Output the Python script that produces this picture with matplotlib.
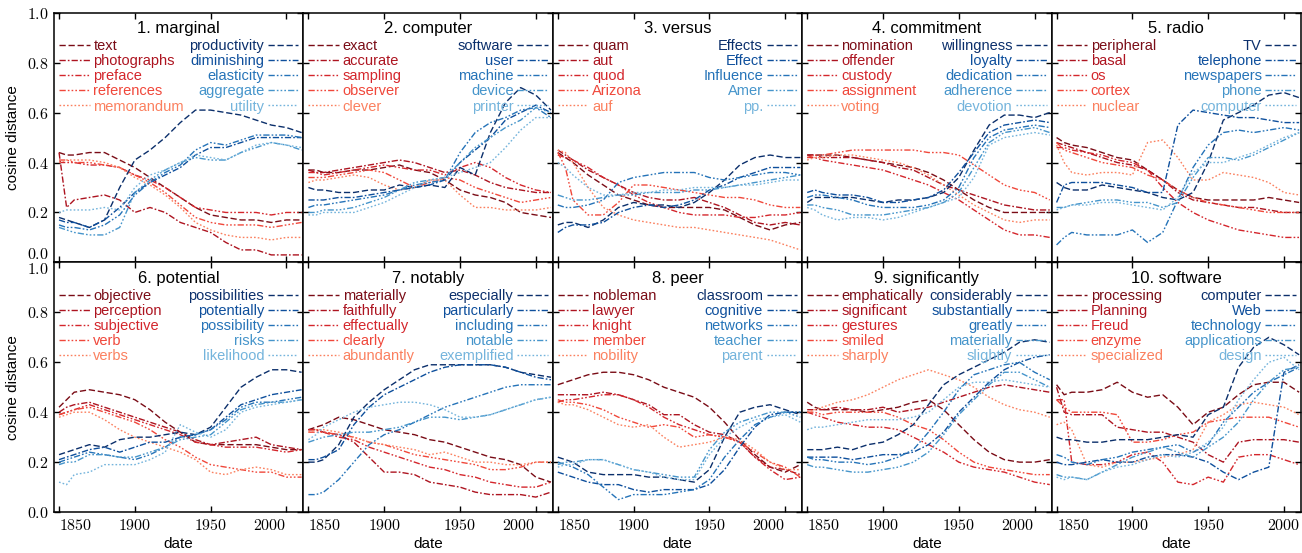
import matplotlib.pyplot as plt
from matplotlib.ticker import FuncFormatter

plt.rcParams['font.family'] = ['Liberation Sans', 'DejaVu Sans']
plt.rcParams['mathtext.fontset'] = 'cm'

YEARS = [1850, 1855, 1860, 1870, 1880, 1890, 1900, 1910, 1920,
         1930, 1940, 1950, 1960, 1970, 1980, 1990, 2000, 2010]

# 1. marginal
MARGINAL_RED_WORDS = ['text', 'photographs', 'preface', 'references', 'memorandum']
MARGINAL_RED = [
    [0.44, 0.43, 0.43, 0.44, 0.44, 0.41, 0.38, 0.34, 0.30, 0.26, 0.22, 0.19, 0.18, 0.17, 0.17, 0.16, 0.17, 0.17],
    [0.44, 0.22, 0.25, 0.26, 0.27, 0.25, 0.20, 0.22, 0.20, 0.16, 0.14, 0.12, 0.08, 0.05, 0.05, 0.03, 0.03, 0.03],
    [0.40, 0.40, 0.40, 0.39, 0.39, 0.38, 0.35, 0.33, 0.30, 0.26, 0.22, 0.21, 0.20, 0.20, 0.20, 0.19, 0.20, 0.20],
    [0.41, 0.41, 0.40, 0.40, 0.39, 0.38, 0.35, 0.32, 0.28, 0.23, 0.18, 0.16, 0.15, 0.15, 0.15, 0.14, 0.15, 0.16],
    [0.40, 0.41, 0.41, 0.41, 0.40, 0.38, 0.34, 0.31, 0.27, 0.22, 0.16, 0.13, 0.11, 0.10, 0.10, 0.09, 0.10, 0.10],
]
MARGINAL_BLUE_WORDS = ['productivity', 'diminishing', 'elasticity', 'aggregate', 'utility']
MARGINAL_BLUE = [
    [0.18, 0.17, 0.16, 0.14, 0.17, 0.30, 0.41, 0.45, 0.50, 0.56, 0.61, 0.61, 0.60, 0.59, 0.57, 0.55, 0.54, 0.52],
    [0.17, 0.16, 0.16, 0.14, 0.17, 0.22, 0.28, 0.32, 0.35, 0.38, 0.43, 0.46, 0.46, 0.48, 0.50, 0.50, 0.50, 0.50],
    [0.15, 0.14, 0.14, 0.13, 0.15, 0.19, 0.27, 0.32, 0.36, 0.39, 0.45, 0.48, 0.47, 0.49, 0.51, 0.51, 0.51, 0.50],
    [0.14, 0.13, 0.12, 0.11, 0.11, 0.14, 0.28, 0.33, 0.37, 0.40, 0.42, 0.41, 0.41, 0.44, 0.46, 0.48, 0.47, 0.45],
    [0.20, 0.21, 0.21, 0.21, 0.22, 0.21, 0.30, 0.35, 0.37, 0.40, 0.43, 0.42, 0.41, 0.44, 0.47, 0.48, 0.47, 0.46],
]

# 2. computer
COMPUTER_RED_WORDS = ['exact', 'accurate', 'sampling', 'observer', 'clever']
COMPUTER_RED = [
    [0.37, 0.37, 0.36, 0.36, 0.37, 0.37, 0.38, 0.39, 0.37, 0.36, 0.33, 0.29, 0.27, 0.26, 0.24, 0.20, 0.19, 0.18],
    [0.37, 0.36, 0.36, 0.37, 0.38, 0.39, 0.40, 0.41, 0.40, 0.38, 0.36, 0.37, 0.35, 0.32, 0.30, 0.29, 0.28, 0.28],
    [0.36, 0.36, 0.35, 0.36, 0.37, 0.38, 0.39, 0.38, 0.37, 0.37, 0.35, 0.38, 0.40, 0.38, 0.34, 0.31, 0.29, 0.28],
    [0.34, 0.34, 0.34, 0.35, 0.36, 0.37, 0.36, 0.33, 0.30, 0.32, 0.34, 0.33, 0.30, 0.28, 0.26, 0.24, 0.25, 0.26],
    [0.32, 0.33, 0.33, 0.34, 0.35, 0.34, 0.31, 0.29, 0.30, 0.33, 0.33, 0.27, 0.22, 0.22, 0.21, 0.21, 0.21, 0.22],
]
COMPUTER_BLUE_WORDS = ['software', 'user', 'machine', 'device', 'printer']
COMPUTER_BLUE = [
    [0.30, 0.29, 0.29, 0.28, 0.28, 0.29, 0.29, 0.31, 0.30, 0.31, 0.30, 0.38, 0.35, 0.52, 0.64, 0.70, 0.67, 0.61],
    [0.25, 0.25, 0.25, 0.26, 0.26, 0.27, 0.28, 0.29, 0.30, 0.31, 0.33, 0.40, 0.45, 0.50, 0.57, 0.60, 0.63, 0.60],
    [0.22, 0.23, 0.23, 0.24, 0.25, 0.26, 0.27, 0.29, 0.31, 0.32, 0.33, 0.44, 0.52, 0.56, 0.58, 0.61, 0.62, 0.58],
    [0.20, 0.20, 0.21, 0.21, 0.22, 0.24, 0.26, 0.29, 0.32, 0.33, 0.34, 0.40, 0.46, 0.50, 0.54, 0.57, 0.62, 0.60],
    [0.19, 0.19, 0.20, 0.20, 0.20, 0.22, 0.24, 0.27, 0.30, 0.33, 0.34, 0.36, 0.38, 0.40, 0.46, 0.53, 0.58, 0.58],
]

# 3. versus
VERSUS_RED_WORDS = ['quam', 'aut', 'quod', 'Arizona', 'auf']
VERSUS_RED = [
    [0.44, 0.42, 0.40, 0.35, 0.31, 0.27, 0.25, 0.23, 0.22, 0.22, 0.22, 0.22, 0.21, 0.18, 0.15, 0.13, 0.15, 0.16],
    [0.45, 0.43, 0.41, 0.37, 0.34, 0.31, 0.28, 0.26, 0.25, 0.25, 0.26, 0.24, 0.22, 0.19, 0.16, 0.15, 0.16, 0.15],
    [0.43, 0.42, 0.41, 0.38, 0.34, 0.31, 0.27, 0.24, 0.22, 0.20, 0.19, 0.19, 0.19, 0.18, 0.18, 0.19, 0.19, 0.20],
    [0.44, 0.38, 0.25, 0.19, 0.19, 0.24, 0.31, 0.31, 0.30, 0.29, 0.28, 0.27, 0.26, 0.26, 0.25, 0.23, 0.22, 0.22],
    [0.45, 0.44, 0.40, 0.30, 0.22, 0.19, 0.17, 0.16, 0.15, 0.14, 0.14, 0.13, 0.12, 0.11, 0.10, 0.09, 0.07, 0.05],
]
VERSUS_BLUE_WORDS = ['Effects', 'Effect', 'Influence', 'Amer', 'pp.']
VERSUS_BLUE = [
    [0.15, 0.16, 0.16, 0.14, 0.17, 0.22, 0.24, 0.23, 0.23, 0.22, 0.24, 0.28, 0.33, 0.39, 0.42, 0.43, 0.42, 0.42],
    [0.12, 0.14, 0.15, 0.15, 0.16, 0.20, 0.22, 0.23, 0.22, 0.23, 0.25, 0.29, 0.31, 0.34, 0.36, 0.38, 0.38, 0.38],
    [0.23, 0.22, 0.22, 0.23, 0.25, 0.32, 0.34, 0.35, 0.36, 0.36, 0.36, 0.34, 0.33, 0.34, 0.35, 0.36, 0.36, 0.35],
    [0.27, 0.26, 0.25, 0.25, 0.26, 0.27, 0.27, 0.28, 0.28, 0.28, 0.29, 0.29, 0.30, 0.31, 0.32, 0.33, 0.34, 0.35],
    [0.40, 0.38, 0.35, 0.30, 0.27, 0.27, 0.28, 0.28, 0.29, 0.29, 0.30, 0.30, 0.30, 0.31, 0.31, 0.32, 0.33, 0.33],
]

# 4. commitment
COMMITMENT_RED_WORDS = ['nomination', 'offender', 'custody', 'assignment', 'voting']
COMMITMENT_RED = [
    [0.43, 0.43, 0.43, 0.43, 0.42, 0.41, 0.40, 0.39, 0.38, 0.36, 0.33, 0.29, 0.25, 0.22, 0.20, 0.20, 0.20, 0.20],
    [0.43, 0.43, 0.42, 0.42, 0.42, 0.41, 0.40, 0.38, 0.37, 0.34, 0.31, 0.29, 0.27, 0.25, 0.23, 0.22, 0.21, 0.21],
    [0.42, 0.42, 0.41, 0.40, 0.39, 0.38, 0.37, 0.35, 0.33, 0.31, 0.28, 0.25, 0.21, 0.17, 0.13, 0.11, 0.11, 0.10],
    [0.42, 0.43, 0.43, 0.44, 0.45, 0.45, 0.45, 0.45, 0.45, 0.44, 0.44, 0.43, 0.39, 0.35, 0.31, 0.29, 0.28, 0.25],
    [0.41, 0.42, 0.42, 0.43, 0.43, 0.42, 0.41, 0.40, 0.38, 0.35, 0.31, 0.27, 0.23, 0.20, 0.17, 0.16, 0.17, 0.17],
]
COMMITMENT_BLUE_WORDS = ['willingness', 'loyalty', 'dedication', 'adherence', 'devotion']
COMMITMENT_BLUE = [
    [0.24, 0.26, 0.26, 0.26, 0.26, 0.25, 0.24, 0.25, 0.25, 0.26, 0.28, 0.34, 0.45, 0.55, 0.59, 0.59, 0.58, 0.60],
    [0.28, 0.29, 0.28, 0.27, 0.27, 0.26, 0.24, 0.24, 0.25, 0.26, 0.29, 0.36, 0.44, 0.52, 0.55, 0.56, 0.57, 0.56],
    [0.26, 0.27, 0.27, 0.26, 0.25, 0.23, 0.22, 0.22, 0.22, 0.23, 0.25, 0.30, 0.42, 0.50, 0.53, 0.54, 0.55, 0.54],
    [0.23, 0.23, 0.22, 0.21, 0.19, 0.19, 0.19, 0.20, 0.21, 0.22, 0.24, 0.28, 0.38, 0.48, 0.52, 0.53, 0.54, 0.52],
    [0.22, 0.21, 0.19, 0.17, 0.18, 0.18, 0.17, 0.18, 0.20, 0.22, 0.24, 0.26, 0.34, 0.47, 0.50, 0.51, 0.52, 0.51],
]

# 5. radio
RADIO_RED_WORDS = ['peripheral', 'basal', 'os', 'cortex', 'nuclear']
RADIO_RED = [
    [0.50, 0.48, 0.47, 0.46, 0.44, 0.42, 0.41, 0.37, 0.33, 0.29, 0.26, 0.25, 0.25, 0.25, 0.25, 0.26, 0.25, 0.24],
    [0.48, 0.47, 0.46, 0.44, 0.42, 0.40, 0.39, 0.37, 0.33, 0.28, 0.25, 0.24, 0.23, 0.22, 0.22, 0.21, 0.20, 0.20],
    [0.46, 0.46, 0.45, 0.44, 0.43, 0.41, 0.40, 0.37, 0.30, 0.24, 0.20, 0.17, 0.15, 0.13, 0.12, 0.11, 0.10, 0.10],
    [0.48, 0.45, 0.44, 0.42, 0.40, 0.39, 0.38, 0.35, 0.33, 0.29, 0.26, 0.24, 0.23, 0.22, 0.21, 0.20, 0.20, 0.20],
    [0.47, 0.40, 0.36, 0.35, 0.36, 0.36, 0.35, 0.48, 0.49, 0.42, 0.33, 0.33, 0.36, 0.35, 0.34, 0.32, 0.28, 0.27],
]
RADIO_BLUE_WORDS = ['TV', 'telephone', 'newspapers', 'phone', 'computer']
RADIO_BLUE = [
    [0.32, 0.30, 0.29, 0.29, 0.31, 0.30, 0.29, 0.28, 0.26, 0.25, 0.28, 0.40, 0.57, 0.60, 0.63, 0.67, 0.68, 0.66],
    [0.24, 0.31, 0.32, 0.32, 0.32, 0.31, 0.30, 0.28, 0.28, 0.55, 0.61, 0.60, 0.59, 0.58, 0.58, 0.57, 0.56, 0.56],
    [0.07, 0.10, 0.12, 0.11, 0.11, 0.11, 0.13, 0.08, 0.12, 0.25, 0.38, 0.47, 0.52, 0.53, 0.52, 0.53, 0.54, 0.53],
    [0.22, 0.22, 0.23, 0.24, 0.25, 0.25, 0.24, 0.24, 0.22, 0.24, 0.34, 0.42, 0.42, 0.41, 0.43, 0.46, 0.49, 0.52],
    [0.21, 0.22, 0.23, 0.23, 0.24, 0.24, 0.23, 0.22, 0.21, 0.26, 0.36, 0.40, 0.40, 0.42, 0.44, 0.47, 0.50, 0.52],
]

# 6. potential
POTENTIAL_RED_WORDS = ['objective', 'perception', 'subjective', 'verb', 'verbs']
POTENTIAL_RED = [
    [0.42, 0.45, 0.48, 0.49, 0.48, 0.47, 0.45, 0.41, 0.36, 0.32, 0.28, 0.27, 0.27, 0.27, 0.27, 0.26, 0.25, 0.25],
    [0.40, 0.42, 0.43, 0.44, 0.42, 0.40, 0.38, 0.36, 0.34, 0.32, 0.29, 0.27, 0.28, 0.29, 0.30, 0.27, 0.26, 0.25],
    [0.39, 0.40, 0.41, 0.43, 0.41, 0.39, 0.37, 0.35, 0.33, 0.31, 0.28, 0.27, 0.26, 0.26, 0.26, 0.25, 0.24, 0.25],
    [0.39, 0.40, 0.41, 0.42, 0.40, 0.38, 0.36, 0.33, 0.29, 0.26, 0.22, 0.19, 0.18, 0.17, 0.16, 0.16, 0.14, 0.14],
    [0.38, 0.39, 0.40, 0.40, 0.37, 0.33, 0.30, 0.28, 0.26, 0.24, 0.21, 0.16, 0.15, 0.17, 0.18, 0.17, 0.15, 0.15],
]
POTENTIAL_BLUE_WORDS = ['possibilities', 'potentially', 'possibility', 'risks', 'likelihood']
POTENTIAL_BLUE = [
    [0.23, 0.24, 0.25, 0.27, 0.26, 0.29, 0.30, 0.30, 0.31, 0.32, 0.31, 0.34, 0.42, 0.50, 0.54, 0.57, 0.57, 0.56],
    [0.21, 0.22, 0.23, 0.25, 0.26, 0.24, 0.26, 0.28, 0.28, 0.30, 0.31, 0.33, 0.38, 0.43, 0.45, 0.47, 0.48, 0.49],
    [0.20, 0.21, 0.22, 0.24, 0.23, 0.22, 0.21, 0.23, 0.26, 0.30, 0.31, 0.33, 0.37, 0.42, 0.44, 0.44, 0.45, 0.46],
    [0.19, 0.20, 0.20, 0.23, 0.23, 0.22, 0.22, 0.24, 0.26, 0.29, 0.30, 0.31, 0.36, 0.41, 0.43, 0.44, 0.44, 0.45],
    [0.12, 0.11, 0.15, 0.16, 0.19, 0.19, 0.19, 0.21, 0.24, 0.35, 0.32, 0.30, 0.33, 0.40, 0.42, 0.43, 0.44, 0.45],
]

# 7. notably
NOTABLY_RED_WORDS = ['materially', 'faithfully', 'effectually', 'clearly', 'abundantly']
NOTABLY_RED = [
    [0.33, 0.34, 0.35, 0.38, 0.37, 0.35, 0.33, 0.32, 0.31, 0.29, 0.28, 0.26, 0.24, 0.22, 0.21, 0.19, 0.14, 0.12],
    [0.33, 0.33, 0.32, 0.31, 0.28, 0.22, 0.16, 0.16, 0.15, 0.12, 0.11, 0.10, 0.08, 0.07, 0.07, 0.07, 0.06, 0.08],
    [0.33, 0.33, 0.32, 0.30, 0.29, 0.26, 0.24, 0.22, 0.20, 0.18, 0.17, 0.15, 0.14, 0.12, 0.11, 0.10, 0.10, 0.12],
    [0.32, 0.32, 0.32, 0.31, 0.30, 0.28, 0.27, 0.25, 0.23, 0.22, 0.21, 0.20, 0.19, 0.17, 0.17, 0.18, 0.20, 0.20],
    [0.32, 0.33, 0.33, 0.32, 0.30, 0.28, 0.27, 0.26, 0.25, 0.23, 0.24, 0.22, 0.20, 0.20, 0.19, 0.19, 0.20, 0.20],
]
NOTABLY_BLUE_WORDS = ['especially', 'particularly', 'including', 'notable', 'exemplified']
NOTABLY_BLUE = [
    [0.20, 0.20, 0.21, 0.27, 0.38, 0.44, 0.49, 0.53, 0.57, 0.59, 0.59, 0.59, 0.59, 0.59, 0.58, 0.56, 0.55, 0.54],
    [0.21, 0.21, 0.22, 0.25, 0.35, 0.42, 0.47, 0.50, 0.53, 0.56, 0.58, 0.59, 0.59, 0.59, 0.58, 0.56, 0.54, 0.53],
    [0.07, 0.07, 0.08, 0.13, 0.20, 0.27, 0.31, 0.33, 0.36, 0.39, 0.42, 0.44, 0.46, 0.48, 0.50, 0.51, 0.51, 0.51],
    [0.28, 0.29, 0.30, 0.31, 0.32, 0.32, 0.33, 0.34, 0.36, 0.38, 0.38, 0.37, 0.38, 0.39, 0.41, 0.43, 0.45, 0.46],
    [0.29, 0.31, 0.34, 0.37, 0.40, 0.42, 0.43, 0.44, 0.44, 0.43, 0.41, 0.38, 0.38, 0.39, 0.41, 0.43, 0.45, 0.46],
]

# 8. peer
PEER_RED_WORDS = ['nobleman', 'lawyer', 'knight', 'member', 'nobility']
PEER_RED = [
    [0.51, 0.52, 0.53, 0.55, 0.56, 0.56, 0.55, 0.53, 0.50, 0.48, 0.46, 0.42, 0.36, 0.29, 0.23, 0.18, 0.16, 0.19],
    [0.47, 0.47, 0.47, 0.47, 0.48, 0.47, 0.45, 0.43, 0.39, 0.39, 0.35, 0.32, 0.31, 0.28, 0.22, 0.18, 0.17, 0.15],
    [0.44, 0.45, 0.45, 0.46, 0.47, 0.47, 0.45, 0.42, 0.38, 0.35, 0.33, 0.31, 0.30, 0.28, 0.22, 0.17, 0.13, 0.14],
    [0.45, 0.44, 0.44, 0.43, 0.41, 0.38, 0.36, 0.34, 0.35, 0.34, 0.30, 0.31, 0.30, 0.28, 0.24, 0.20, 0.18, 0.14],
    [0.44, 0.43, 0.43, 0.41, 0.38, 0.35, 0.34, 0.35, 0.30, 0.26, 0.27, 0.28, 0.30, 0.29, 0.25, 0.20, 0.17, 0.17],
]
PEER_BLUE_WORDS = ['classroom', 'cognitive', 'networks', 'teacher', 'parent']
PEER_BLUE = [
    [0.22, 0.21, 0.20, 0.16, 0.15, 0.15, 0.15, 0.14, 0.14, 0.13, 0.12, 0.17, 0.30, 0.40, 0.42, 0.43, 0.41, 0.39],
    [0.16, 0.15, 0.14, 0.12, 0.11, 0.11, 0.09, 0.08, 0.09, 0.09, 0.09, 0.11, 0.17, 0.26, 0.34, 0.39, 0.40, 0.40],
    [0.20, 0.19, 0.18, 0.15, 0.10, 0.05, 0.07, 0.07, 0.07, 0.08, 0.09, 0.13, 0.22, 0.29, 0.35, 0.38, 0.40, 0.40],
    [0.19, 0.20, 0.20, 0.21, 0.21, 0.19, 0.17, 0.16, 0.15, 0.14, 0.14, 0.25, 0.32, 0.36, 0.38, 0.40, 0.40, 0.38],
    [0.18, 0.19, 0.19, 0.21, 0.21, 0.19, 0.17, 0.16, 0.14, 0.13, 0.13, 0.23, 0.30, 0.34, 0.37, 0.38, 0.39, 0.36],
]

# 9. significantly
SIGNIFICANTLY_RED_WORDS = ['emphatically', 'significant', 'gestures', 'smiled', 'sharply']
SIGNIFICANTLY_RED = [
    [0.44, 0.42, 0.41, 0.41, 0.41, 0.40, 0.41, 0.42, 0.44, 0.45, 0.41, 0.35, 0.29, 0.24, 0.21, 0.20, 0.20, 0.21],
    [0.41, 0.41, 0.41, 0.42, 0.41, 0.41, 0.42, 0.40, 0.41, 0.42, 0.44, 0.46, 0.48, 0.50, 0.51, 0.50, 0.49, 0.48],
    [0.40, 0.39, 0.38, 0.36, 0.35, 0.34, 0.34, 0.33, 0.30, 0.27, 0.24, 0.20, 0.18, 0.17, 0.16, 0.14, 0.12, 0.11],
    [0.40, 0.40, 0.39, 0.40, 0.40, 0.40, 0.40, 0.38, 0.35, 0.33, 0.29, 0.24, 0.20, 0.18, 0.17, 0.16, 0.15, 0.15],
    [0.40, 0.41, 0.42, 0.44, 0.45, 0.47, 0.50, 0.53, 0.55, 0.57, 0.55, 0.53, 0.50, 0.46, 0.43, 0.41, 0.40, 0.38],
]
SIGNIFICANTLY_BLUE_WORDS = ['considerably', 'substantially', 'greatly', 'materially', 'slightly']
SIGNIFICANTLY_BLUE = [
    [0.25, 0.25, 0.25, 0.26, 0.25, 0.27, 0.28, 0.31, 0.35, 0.43, 0.51, 0.55, 0.58, 0.61, 0.64, 0.68, 0.69, 0.68],
    [0.22, 0.22, 0.22, 0.22, 0.21, 0.22, 0.23, 0.23, 0.24, 0.27, 0.32, 0.40, 0.46, 0.52, 0.57, 0.60, 0.62, 0.63],
    [0.22, 0.21, 0.21, 0.20, 0.20, 0.19, 0.20, 0.22, 0.25, 0.32, 0.40, 0.49, 0.55, 0.57, 0.59, 0.60, 0.56, 0.53],
    [0.19, 0.18, 0.18, 0.17, 0.16, 0.16, 0.17, 0.18, 0.20, 0.24, 0.31, 0.39, 0.45, 0.51, 0.56, 0.56, 0.53, 0.50],
    [0.33, 0.34, 0.34, 0.35, 0.36, 0.37, 0.37, 0.37, 0.38, 0.40, 0.45, 0.50, 0.52, 0.52, 0.53, 0.52, 0.51, 0.50],
]

# 10. software
SOFTWARE_RED_WORDS = ['processing', 'Planning', 'Freud', 'enzyme', 'specialized']
SOFTWARE_RED = [
    [0.51, 0.47, 0.48, 0.48, 0.49, 0.52, 0.48, 0.46, 0.47, 0.42, 0.35, 0.40, 0.42, 0.47, 0.51, 0.52, 0.52, 0.48],
    [0.50, 0.40, 0.39, 0.39, 0.39, 0.34, 0.33, 0.32, 0.32, 0.30, 0.28, 0.23, 0.20, 0.28, 0.29, 0.29, 0.29, 0.28],
    [0.45, 0.45, 0.20, 0.19, 0.19, 0.20, 0.23, 0.24, 0.20, 0.12, 0.11, 0.14, 0.12, 0.22, 0.23, 0.23, 0.21, 0.19],
    [0.45, 0.42, 0.40, 0.40, 0.40, 0.39, 0.28, 0.28, 0.29, 0.31, 0.32, 0.36, 0.37, 0.38, 0.38, 0.38, 0.36, 0.34],
    [0.35, 0.36, 0.33, 0.19, 0.18, 0.20, 0.20, 0.21, 0.22, 0.23, 0.25, 0.36, 0.39, 0.43, 0.44, 0.43, 0.42, 0.39],
]
SOFTWARE_BLUE_WORDS = ['computer', 'Web', 'technology', 'applications', 'design']
SOFTWARE_BLUE = [
    [0.30, 0.29, 0.29, 0.28, 0.28, 0.29, 0.29, 0.29, 0.30, 0.31, 0.30, 0.39, 0.42, 0.58, 0.66, 0.70, 0.67, 0.63],
    [0.20, 0.19, 0.19, 0.20, 0.21, 0.20, 0.20, 0.22, 0.23, 0.23, 0.22, 0.20, 0.16, 0.13, 0.16, 0.18, 0.56, 0.59],
    [0.23, 0.22, 0.20, 0.19, 0.21, 0.22, 0.24, 0.25, 0.26, 0.27, 0.24, 0.27, 0.36, 0.42, 0.48, 0.52, 0.55, 0.58],
    [0.15, 0.14, 0.14, 0.13, 0.16, 0.19, 0.22, 0.24, 0.26, 0.24, 0.22, 0.26, 0.30, 0.36, 0.45, 0.52, 0.57, 0.58],
    [0.14, 0.13, 0.14, 0.13, 0.16, 0.18, 0.19, 0.21, 0.23, 0.22, 0.24, 0.28, 0.34, 0.45, 0.53, 0.60, 0.62, 0.57],
]

TITLES = ['1. marginal', '2. computer', '3. versus', '4. commitment', '5. radio',
          '6. potential', '7. notably', '8. peer', '9. significantly', '10. software']

PANELS = [
    (MARGINAL_RED_WORDS, MARGINAL_RED, MARGINAL_BLUE_WORDS, MARGINAL_BLUE),
    (COMPUTER_RED_WORDS, COMPUTER_RED, COMPUTER_BLUE_WORDS, COMPUTER_BLUE),
    (VERSUS_RED_WORDS, VERSUS_RED, VERSUS_BLUE_WORDS, VERSUS_BLUE),
    (COMMITMENT_RED_WORDS, COMMITMENT_RED, COMMITMENT_BLUE_WORDS, COMMITMENT_BLUE),
    (RADIO_RED_WORDS, RADIO_RED, RADIO_BLUE_WORDS, RADIO_BLUE),
    (POTENTIAL_RED_WORDS, POTENTIAL_RED, POTENTIAL_BLUE_WORDS, POTENTIAL_BLUE),
    (NOTABLY_RED_WORDS, NOTABLY_RED, NOTABLY_BLUE_WORDS, NOTABLY_BLUE),
    (PEER_RED_WORDS, PEER_RED, PEER_BLUE_WORDS, PEER_BLUE),
    (SIGNIFICANTLY_RED_WORDS, SIGNIFICANTLY_RED, SIGNIFICANTLY_BLUE_WORDS, SIGNIFICANTLY_BLUE),
    (SOFTWARE_RED_WORDS, SOFTWARE_RED, SOFTWARE_BLUE_WORDS, SOFTWARE_BLUE),
]

REDS = ['#7a0c16', '#ad1420', '#d4262c', '#f0473a', '#fb805f']
BLUES = ['#0b2f6b', '#0e4f9c', '#2573b8', '#4695cb', '#74b4dc']
STYLES = [
    (0, (4.5, 2)),
    (0, (4.5, 1.5, 1.2, 1.5)),
    (0, (4.5, 1.5, 1.2, 1.5, 1.2, 1.5)),
    (0, (4.5, 1.5, 1.2, 1.5, 1.2, 1.5, 1.2, 1.5)),
    (0, (1.2, 1.5)),
]

fig, axes = plt.subplots(2, 5, figsize=(13.02, 5.53), dpi=100, sharex=True, sharey=True)
fig.subplots_adjust(left=0.0415, right=0.9992, bottom=0.074, top=0.977, wspace=0, hspace=0)

leg_kw = dict(fontsize=10.5, frameon=False, borderpad=0, borderaxespad=0,
              handlelength=2.1, handletextpad=0.25, labelspacing=0.08)

for i, (ax, title, (rw, rv, bw, bv)) in enumerate(zip(axes.flat, TITLES, PANELS)):
    red_lines = [ax.plot(YEARS, v, color=c, ls=s, lw=1.0)[0]
                 for v, c, s in zip(rv, REDS, STYLES)]
    blue_lines = [ax.plot(YEARS, v, color=c, ls=s, lw=1.0)[0]
                  for v, c, s in zip(bv, BLUES, STYLES)]

    leg = ax.legend(red_lines, rw, loc='upper left', bbox_to_anchor=(0.02, 0.895), **leg_kw)
    for t, c in zip(leg.get_texts(), REDS):
        t.set_color(c)
    ax.add_artist(leg)
    leg = ax.legend(blue_lines, bw, loc='upper right', bbox_to_anchor=(0.98, 0.895),
                    markerfirst=False, **leg_kw)
    for t, c in zip(leg.get_texts(), BLUES):
        t.set_color(c)

    ax.text(0.5, 0.935, title, transform=ax.transAxes, ha='center', va='center', fontsize=12)

    ax.set_xlim(1846.7, 2011.2)
    ax.set_ylim(0, 1)
    ax.set_xticks([1850, 1900, 1950, 2000])
    ax.set_yticks([0.0, 0.2, 0.4, 0.6, 0.8, 1.0])
    ax.xaxis.set_major_formatter(FuncFormatter(lambda v, p: r'$%d$' % round(v)))
    ax.yaxis.set_major_formatter(FuncFormatter(lambda v, p: r'$%.1f$' % v))
    ax.tick_params(direction='in', length=4, width=1, top=True, right=True,
                   labelsize=11.5, pad=4)
    for s in ax.spines.values():
        s.set_linewidth(1.1)

    if i % 5 == 0:
        ax.set_ylabel('cosine distance', fontsize=11, labelpad=5)
    if i >= 5:
        ax.set_xlabel('date', fontsize=11, labelpad=3)
        xt = ax.xaxis.get_major_ticks()
        xt[0].label1.set_ha('left')
        if i < 9:
            xt[-1].label1.set_ha('right')

# keep the shared 0.0 / 1.0 labels from colliding at the row boundary
axes[0, 0].yaxis.get_major_ticks()[0].label1.set_va('bottom')
axes[1, 0].yaxis.get_major_ticks()[-1].label1.set_va('top')

fig.savefig('out.png', dpi=100)
